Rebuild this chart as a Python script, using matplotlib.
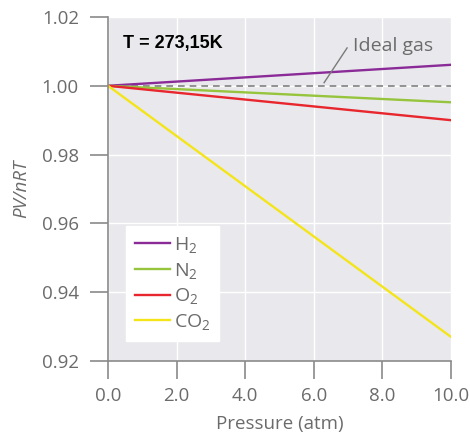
import matplotlib
matplotlib.use("Agg")
import matplotlib.pyplot as plt

pressure = [0.0, 10.0]
h2 = [1.000, 1.0061]
n2 = [1.000, 0.9952]
o2 = [1.000, 0.9900]
co2 = [1.000, 0.9270]
ideal = [1.000, 1.000]

series_labels = ["H$_2$", "N$_2$", "O$_2$", "CO$_2$"]
colors = ["#8a2b98", "#96c43c", "#e8262d", "#f4e41a"]
xticks = [0, 2, 4, 6, 8, 10]
yticks = [0.92, 0.94, 0.96, 0.98, 1.00, 1.02]

plt.rcParams['font.family'] = ['Open Sans', 'DejaVu Sans']
plt.rcParams['mathtext.default'] = 'regular'

fig = plt.figure(figsize=(4.70, 4.41), dpi=100)
ax = fig.add_axes([0.2298, 0.1814, 0.7298, 0.7801])
ax.set_facecolor("#e9e9ed")

gray = "#6b6b6b"
ax.set_xlim(0, 10)
ax.set_ylim(0.92, 1.02)
ax.set_xticks(xticks)
ax.set_xticklabels([f"{v:.1f}" for v in xticks])
ax.set_yticks(yticks)
ax.set_yticklabels([f"{v:.2f}" for v in yticks])
ax.grid(True, color="white", linewidth=1.0)
ax.set_axisbelow(True)
for s in ["top", "right"]:
    ax.spines[s].set_visible(False)
for s in ["left", "bottom"]:
    ax.spines[s].set_color("#8a8a8a")
    ax.spines[s].set_linewidth(1.2)
ax.tick_params(direction="out", length=13, width=1.2, color="#8a8a8a",
               labelsize=13.5, labelcolor=gray)
ax.tick_params(axis="y", pad=8)
ax.tick_params(axis="x", pad=6)

ax.plot(pressure, ideal, color="#808080", linestyle=(0, (4, 3)), linewidth=1.2)
for ys, lab, c in zip([h2, n2, o2, co2], series_labels, colors):
    ax.plot(pressure, ys, color=c, linewidth=1.7, label=lab)

ax.set_xlabel("Pressure (atm)", fontsize=13.5, color=gray, labelpad=7)
ax.set_ylabel("PV/nRT", fontsize=13.5, color=gray, style="italic", labelpad=8)

ax.text(0.045, 0.922, "T = 273,15K", transform=ax.transAxes, fontsize=13,
        fontweight="bold", family=["Liberation Sans", "DejaVu Sans"],
        color="black", va="center", ha="left")

ax.plot([6.3, 6.97], [1.0009, 1.011], color="#7a7a7a", linewidth=1.0)
ax.text(7.15, 1.0117, "Ideal gas", fontsize=14, color=gray,
        va="center", ha="left")

leg = ax.legend(loc="lower left", bbox_to_anchor=(0.025, 0.03), fontsize=14,
                frameon=True, fancybox=False, handlelength=1.8,
                handletextpad=0.2, labelspacing=0.3, borderpad=0.45,
                labelcolor=gray)
leg.get_frame().set_facecolor("white")
leg.get_frame().set_edgecolor("white")
leg.get_frame().set_alpha(1.0)

fig.savefig("out.png", dpi=100)
